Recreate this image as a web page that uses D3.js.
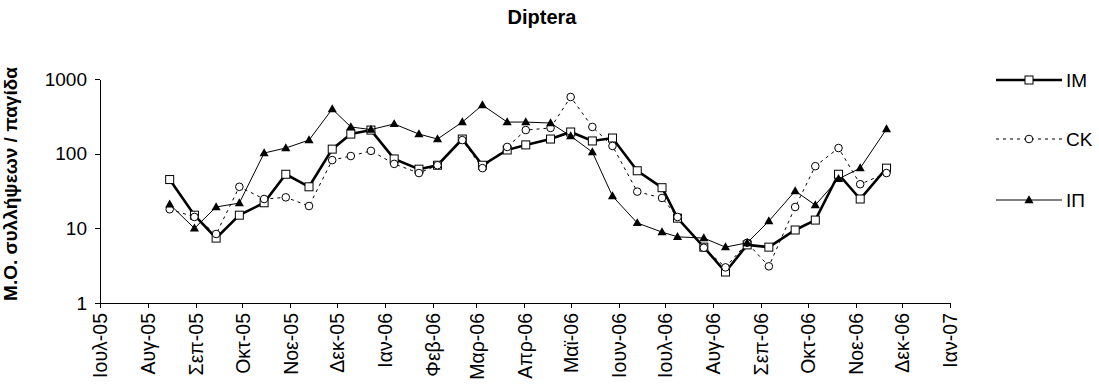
<!DOCTYPE html>
<html>
<head>
<meta charset="utf-8">
<script src="https://cdn.jsdelivr.net/npm/d3@7"></script>
<style>
	body { margin:0; background:#fff; }
	text { font-family: Arial, "Liberation Sans", sans-serif; }
	.axis path, .axis line { stroke:#000; shape-rendering:crispEdges; }
</style>
</head>
<body>
<div id="chart"></div>
<script>
	// sampling dates (about every two weeks)
	var dates = ["2005-08-15","2005-08-31","2005-09-14","2005-09-29","2005-10-15","2005-10-29",
		"2005-11-13","2005-11-28","2005-12-10","2005-12-23","2006-01-07","2006-01-23",
		"2006-02-04","2006-02-20","2006-03-05","2006-03-21","2006-04-02","2006-04-18",
		"2006-05-01","2006-05-15","2006-05-28","2006-06-13","2006-06-29","2006-07-09",
		"2006-07-26","2006-08-09","2006-08-23","2006-09-06","2006-09-23","2006-10-06",
		"2006-10-21","2006-11-04","2006-11-21"];

	var valuesIM = [45,15,7.4,15,22,53,36,115,183,207,85,62,70,157,70,112,131,157,
		195,148,162,59,35,13.7,5.6,2.6,6.0,5.6,9.5,12.9,53,24.7,64];
	var valuesCK = [18,14.2,8.4,36,24.7,26,19.9,82,93,109,73,55,70,152,64,123,207,221,
		574,228,127,31,25.5,14.2,5.5,3.0,6.4,3.1,19.3,68,119,39,55];
	var valuesIP = [21,10,19.3,21.8,102,119,152,396,228,210,250,183,157,265,448,265,265,257,
		172,105,27,11.8,8.9,7.7,7.4,5.6,6.4,12.5,31.6,20.5,46,64,214];

	var seriesNames = ["IM","CK","IΠ"];
	var yTicks = [1,10,100,1000];
	var monthNames = ["Ιαν","Φεβ","Μαρ","Απρ","Μαϊ","Ιουν","Ιουλ","Αυγ","Σεπ","Οκτ","Νοε","Δεκ"];

	var width = 1099, height = 392;
	var plotLeft = 100, plotRight = 950, plotTop = 79, plotBottom = 303;

	var parse = d3.timeParse("%Y-%m-%d");
	var series = [valuesIM, valuesCK, valuesIP].map(function(vals, i){
		return { name: seriesNames[i], points: vals.map(function(v, j){ return { date: parse(dates[j]), value: v }; }) };
	});

	var svg = d3.select("#chart")
		.append("svg")
		.attr("width", width)
		.attr("height", height);

	var x = d3.scaleTime()
		.domain([new Date(2005, 6, 1), new Date(2007, 0, 1)])
		.range([plotLeft, plotRight]);

	var y = d3.scaleLog()
		.domain([1, 1000])
		.range([plotBottom, plotTop]);

	// title
	svg.append("text")
		.attr("x", 542)
		.attr("y", 24)
		.attr("text-anchor", "middle")
		.style("font-size", "20px")
		.style("font-weight", "bold")
		.text("Diptera");

	// y label
	svg.append("text")
		.attr("transform", "translate(17,184) rotate(-90)")
		.attr("text-anchor", "middle")
		.style("font-size", "19px")
		.style("font-weight", "bold")
		.text("Μ.Ο. συλλήψεων / παγίδα");

	// axes
	var yAxis = svg.append("g")
		.attr("class", "axis")
		.attr("transform", "translate(" + plotLeft + ",0)")
		.call(d3.axisLeft(y).tickValues(yTicks).tickFormat(d3.format("d")).tickSize(5).tickSizeOuter(0).tickPadding(8));
	yAxis.selectAll("text").style("font-size", "19px").attr("fill", "#000");

	var xAxis = svg.append("g")
		.attr("class", "axis")
		.attr("transform", "translate(0," + plotBottom + ")")
		.call(d3.axisBottom(x)
			.ticks(d3.timeMonth.every(1))
			.tickSize(5).tickSizeOuter(0)
			.tickFormat(function(d){ return monthNames[d.getMonth()] + "-" + d3.timeFormat("%y")(d); }));
	xAxis.selectAll("text")
		.style("font-size", "19.5px")
		.attr("fill", "#000")
		.attr("text-anchor", "end")
		.attr("x", 0)
		.attr("y", 0)
		.attr("dy", "0.35em")
		.attr("transform", "translate(0,10) rotate(-90)");

	var line = d3.line()
		.x(function(d){ return x(d.date); })
		.y(function(d){ return y(d.value); });

	var styles = {
		"IM": { width: 2.6, dash: null },
		"CK": { width: 1, dash: "3,4" },
		"IΠ": { width: 1, dash: null }
	};

	var tri = d3.symbol().type(d3.symbolTriangle).size(36);

	function drawMarker(g, name, px, py) {
		if (name == "IM") {
			g.append("rect")
				.attr("x", px - 4).attr("y", py - 4)
				.attr("width", 8).attr("height", 8)
				.attr("fill", "#fff").attr("stroke", "#000").attr("stroke-width", 1);
		} else if (name == "CK") {
			g.append("circle")
				.attr("cx", px).attr("cy", py).attr("r", 3.8)
				.attr("fill", "#fff").attr("stroke", "#000").attr("stroke-width", 1);
		} else {
			g.append("path")
				.attr("d", tri)
				.attr("transform", "translate(" + px + "," + (py + 0.5) + ")")
				.attr("fill", "#000");
		}
	}

	series.forEach(function(s){
		var g = svg.append("g");
		g.append("path")
			.datum(s.points)
			.attr("fill", "none")
			.attr("stroke", "#000")
			.attr("stroke-width", styles[s.name].width)
			.attr("stroke-dasharray", styles[s.name].dash)
			.attr("d", line);
		s.points.forEach(function(p){
			drawMarker(g, s.name, x(p.date), y(p.value));
		});
	});

	// legend
	var legendY = [80, 139, 200];
	series.forEach(function(s, i){
		var lg = svg.append("g");
		lg.append("line")
			.attr("x1", 996).attr("x2", 1062)
			.attr("y1", legendY[i]).attr("y2", legendY[i])
			.attr("stroke", "#000")
			.attr("stroke-width", styles[s.name].width)
			.attr("stroke-dasharray", styles[s.name].dash);
		drawMarker(lg, s.name, 1029, legendY[i]);
		lg.append("text")
			.attr("x", 1066)
			.attr("y", legendY[i])
			.attr("dy", "0.35em")
			.style("font-size", "19px")
			.text(s.name);
	});
</script>
</body>
</html>
